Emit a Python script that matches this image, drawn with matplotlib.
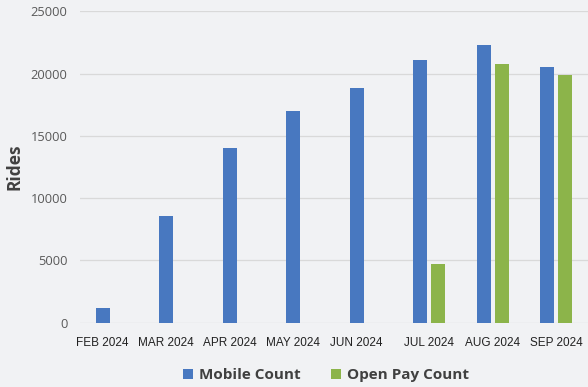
import matplotlib.pyplot as plt
import numpy as np

months = ["FEB 2024", "MAR 2024", "APR 2024", "MAY 2024",
          "JUN 2024", "JUL 2024", "AUG 2024", "SEP 2024"]
mobile_count = [1200, 8550, 14050, 17000, 18800, 21050, 22250, 20550]
open_pay_count = [0, 0, 0, 0, 0, 4680, 20800, 19850]

blue = "#4878c0"
green = "#8cb44a"
bg = "#f1f2f4"

fig = plt.figure(figsize=(5.88, 3.87), dpi=100, facecolor=bg)
ax = fig.add_axes([0.136, 0.166, 0.864, 0.805], facecolor=bg)

x = np.arange(len(months))
w = 0.22
off = 0.142
ax.bar(x - off, mobile_count, w, color=blue, label="Mobile Count", zorder=3)
ax.bar(x + off, open_pay_count, w, color=green, label="Open Pay Count", zorder=3)

# labels sit under the bars that actually have values
tick_pos = [i - off if g == 0 else i for i, g in zip(x, open_pay_count)]
ax.set_xticks(tick_pos)
ax.set_xticklabels(months, fontsize=8.5, color="#222222", family="Liberation Sans")
ax.set_xlim(-0.5, len(months) - 0.5)

ax.set_ylim(0, 25000)
ax.set_yticks(range(0, 25001, 5000))
ax.tick_params(axis="y", length=0, pad=9, labelsize=9.3, labelcolor="#595959")
ax.tick_params(axis="x", length=0, pad=10)
for lbl in ax.get_yticklabels():
    lbl.set_family("Open Sans")

ax.grid(axis="y", color="#d9d9d9", linewidth=0.9, zorder=0)
for s in ax.spines.values():
    s.set_visible(False)

ax.set_ylabel("Rides", fontsize=12.5, fontweight="bold", color="#404040",
              family="Open Sans", labelpad=5)

fig.legend(loc="center", bbox_to_anchor=(326 / 588, 0.031), ncol=2, frameon=False,
           handlelength=0.65, handleheight=0.65, handletextpad=0.4, columnspacing=2.0,
           prop={"family": "Open Sans", "weight": "bold", "size": 11}, labelcolor="#404040")

fig.savefig("out.png", dpi=100, facecolor=bg)
